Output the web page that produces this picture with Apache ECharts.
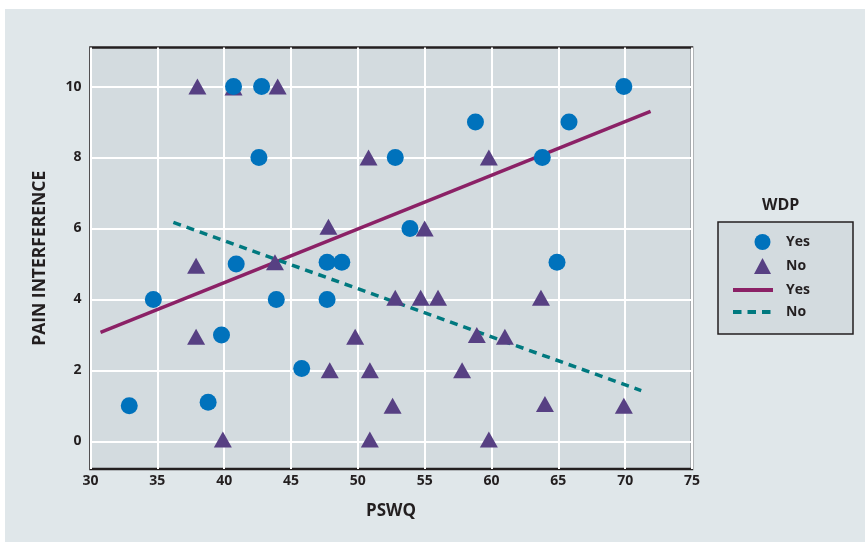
<!DOCTYPE html>
<html lang="en">
<head>
	<meta charset="UTF-8">
	<title>PSWQ vs Pain Interference</title>
	<script src="https://cdn.jsdelivr.net/npm/echarts@6/dist/echarts.min.js"></script>
	<style>
		* { margin: 0; padding: 0; }
		body, html, #main { width: 865px; height: 542px; background: #fff; }
	</style>
</head>
<body>
	<div id="main"></div>
	<script>
		// WDP = Yes (circles)
		const yesPoints = [
			[40.7, 10], [42.8, 10], [42.6, 8], [58.8, 9], [69.9, 10], [65.8, 9],
			[63.8, 8], [52.8, 8], [53.9, 6], [40.9, 5], [47.7, 5.05], [48.8, 5.05],
			[34.7, 4], [43.9, 4], [47.7, 4], [39.8, 3], [45.8, 2.05], [32.9, 1],
			[38.8, 1.1], [64.9, 5.05]
		];
		// WDP = No (triangles)
		const noPoints = [
			[38, 10], [40.7, 9.97], [44, 10], [50.8, 8], [59.8, 8], [47.8, 6.05],
			[55, 6], [37.9, 4.95], [43.8, 5.05], [37.9, 2.95], [49.8, 2.95], [47.9, 2],
			[50.9, 2], [39.9, 0.05], [50.9, 0.05], [52.8, 4.05], [54.7, 4.05], [56, 4.05],
			[63.7, 4.05], [58.9, 3], [61, 2.95], [57.8, 2], [52.6, 1], [64, 1.05],
			[69.9, 1], [59.8, 0.05]
		];
		// fitted lines
		const yesFit = [[30.75, 3.07], [71.9, 9.3]];
		const noFit = [[36.2, 6.17], [71.2, 1.43]];

		const yTicks = [0, 2, 4, 6, 8, 10];

		const dark = '#231f20';
		const font = 'Open Sans';

		const chart = echarts.init(document.getElementById('main'));

		const legendText = {
			fontFamily: font, fontWeight: 'bold', fontSize: 14, color: dark
		};

		const option = {
			backgroundColor: '#fff',
			animation: false,
			textStyle: { fontFamily: font },
			graphic: [
				{
					type: 'rect', z: -10, silent: true,
					shape: { x: 5, y: 9, width: 860, height: 533 },
					style: { fill: '#e0e7ea' }
				},
				{
					// legend box
					type: 'rect', z: 0, silent: true,
					shape: { x: 718, y: 222, width: 135, height: 112 },
					style: { fill: '#d3dbdf', stroke: dark, lineWidth: 1.5 }
				},
				{
					type: 'text', left: 762, top: 197,
					style: { text: 'WDP', font: 'bold 16px "Open Sans"', fill: dark }
				},
				{
					type: 'text', left: 366, top: 503,
					style: { text: 'PSWQ', font: 'bold 17px "Open Sans"', fill: dark }
				}
			],
			grid: {
				left: 90.5, right: 173, top: 47.5, bottom: 73,
				show: true,
				backgroundColor: '#d3dbdf',
				borderColor: dark,
				borderWidth: 2.5
			},
			legend: [
				{
					orient: 'vertical',
					left: 754, top: 234,
					padding: 0,
					itemWidth: 17,
					itemHeight: 16,
					itemGap: 8,
					data: ['Yes', 'No'],
					textStyle: Object.assign({ padding: [0, 0, 0, 10] }, legendText)
				},
				{
					orient: 'vertical',
					left: 731, top: 283,
					padding: 0,
					itemWidth: 40,
					itemHeight: 16,
					itemGap: 8,
					data: [
						{ name: 'Yes ', itemStyle: { opacity: 0 }, lineStyle: { width: 4 } },
						{ name: 'No ', itemStyle: { opacity: 0 }, lineStyle: { width: 4, type: [8.5, 6] } }
					],
					formatter: name => name.trim(),
					textStyle: Object.assign({ padding: [0, 0, 0, 8] }, legendText)
				}
			],
			xAxis: {
				type: 'value',
				min: 30, max: 75, interval: 5,
				axisLine: { show: false },
				axisTick: { show: false },
				splitLine: { lineStyle: { color: '#fff', width: 2 } },
				axisLabel: {
					color: dark, fontWeight: 'bold', fontSize: 14, fontFamily: font, margin: 5
				}
			},
			yAxis: {
				type: 'value',
				min: -0.78, max: 11.1,
				name: 'PAIN INTERFERENCE',
				nameLocation: 'middle',
				nameGap: 41,
				nameTextStyle: { color: dark, fontWeight: 'bold', fontSize: 17.5, fontFamily: font },
				axisLine: { show: false },
				axisTick: { show: false, customValues: yTicks },
				splitLine: { lineStyle: { color: '#fff', width: 2 } },
				axisLabel: {
					customValues: yTicks,
					color: dark, fontWeight: 'bold', fontSize: 14, fontFamily: font, margin: 9
				}
			},
			series: [
				{
					name: 'Yes ',
					type: 'line',
					z: 1,
					data: yesFit,
					symbol: 'none',
					lineStyle: { color: '#8b2166', width: 3.5 },
					itemStyle: { color: '#8b2166' }
				},
				{
					name: 'No ',
					type: 'line',
					z: 1,
					data: noFit,
					symbol: 'none',
					lineStyle: { color: '#00797f', width: 3.5, type: [8, 6] },
					itemStyle: { color: '#00797f' }
				},
				{
					name: 'No',
					type: 'scatter',
					z: 3,
					symbol: 'triangle',
					symbolSize: [18, 16],
					data: noPoints,
					itemStyle: { color: '#574083', opacity: 1 }
				},
				{
					name: 'Yes',
					type: 'scatter',
					z: 4,
					symbol: 'circle',
					symbolSize: 17,
					data: yesPoints,
					itemStyle: { color: '#0072bc', opacity: 1 }
				}
			]
		};

		chart.setOption(option);
	</script>
</body>
</html>
